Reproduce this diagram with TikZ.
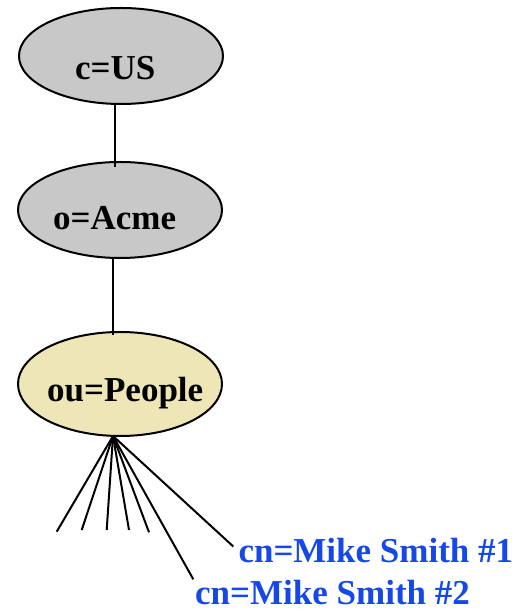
\documentclass[tikz,border=0pt]{standalone}
\usepackage{fontspec}
\setmainfont{Liberation Serif}
\usetikzlibrary{shapes.geometric}
\definecolor{nodegray}{RGB}{200,200,200}
\definecolor{nodebeige}{RGB}{238,230,182}
\definecolor{cnblue}{RGB}{22,72,232}
\tikzset{
  ell/.style={ellipse, draw=black, line width=2pt, minimum width=204pt, inner sep=0pt},
  lbl/.style={font=\fontsize{35}{40}\selectfont\bfseries, inner sep=0pt, anchor=base west},
  cnlbl/.style={lbl, text=cnblue},
  link/.style={line width=2pt, draw=black}
}
\begin{document}
\begin{tikzpicture}[x=1pt,y=1pt]
\useasboundingbox (0,0) rectangle (521,612);
% nodes
\node[ell, fill=nodegray, minimum height=96pt] (cus) at (121,556) {};
\node[ell, fill=nodegray, minimum height=96pt] (acme) at (120,402) {};
\node[ell, fill=nodebeige, minimum height=104pt] (ou) at (120,228) {};
\node[lbl] (cusT) at (75,532) {c=US};
\node[lbl] (acmeT) at (53,382) {o=Acme};
\node[lbl] (ouT) at (47,210) {ou=People};
\node[cnlbl] (cn1) at (238.3,49) {cn=Mike Smith \#1};
\node[cnlbl] (cn2) at (195,7) {cn=Mike Smith \#2};
% connectors
\draw[link] ([xshift=-6pt]cus.south) -- ([xshift=-5pt,yshift=-6pt]acme.north);
\draw[link] ([xshift=-7pt]acme.south) -- ([xshift=-7pt,yshift=-4pt]ou.north);
\coordinate (hub) at ([xshift=-7pt,yshift=1pt]ou.south);
\coordinate (e1) at (56.7,80.3);
\coordinate (e2) at (81.7,82);
\coordinate (e3) at (106.7,82);
\coordinate (e4) at (129,82);
\coordinate (e5) at (149,79.7);
\foreach \e in {e1,e2,e3,e4,e5} \draw[link] (hub) -- (\e);
\draw[link] (hub) -- ([xshift=-5pt,yshift=-8pt]cn1.north west);
\draw[link] (hub) -- ([xshift=-1.7pt,yshift=1.2pt]cn2.north west);
\end{tikzpicture}
\end{document}
